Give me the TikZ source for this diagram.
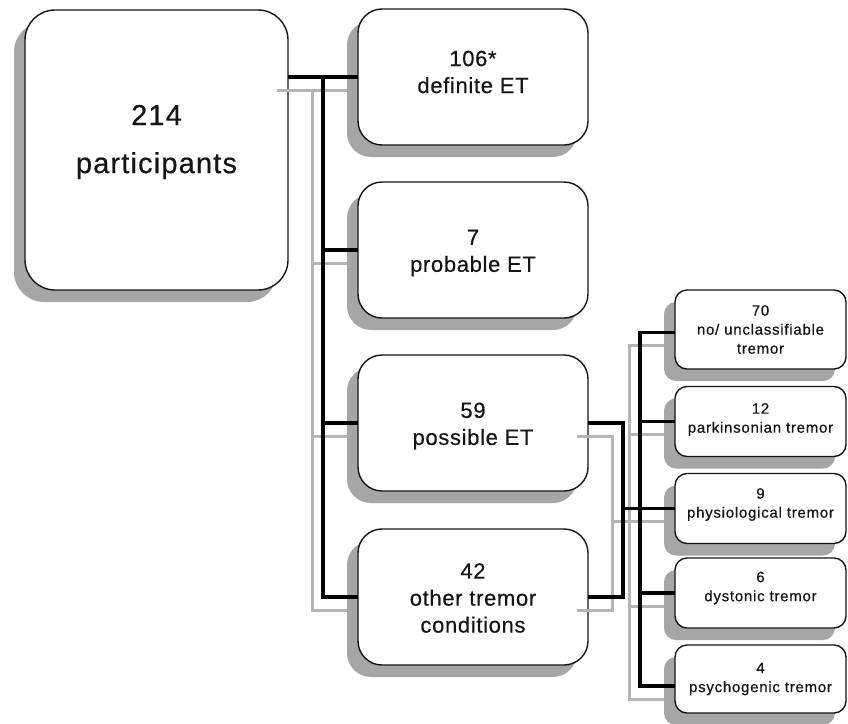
\documentclass[tikz,border=0pt]{standalone}
\usepackage{fontspec}
\setmainfont{Liberation Sans}
\newfontfamily\bigf[LetterSpace=4,FakeBold=0.4]{Liberation Sans}
\newfontfamily\midf[LetterSpace=3,FakeBold=0.4]{Liberation Sans}
\newfontfamily\smlf[LetterSpace=5,FakeBold=0.5]{Liberation Sans}
\usetikzlibrary{shadows}
\definecolor{boxshadow}{HTML}{A6A6A6}
\definecolor{connshadow}{HTML}{B5B5B5}
\definecolor{ink}{HTML}{151515}
\tikzset{
  box/.style={draw=ink, line width=1.4pt, fill=white, inner sep=0pt, outer sep=0pt, rectangle,
    drop shadow={shadow xshift=-11pt, shadow yshift=-12pt, fill=boxshadow, opacity=1}},
  bigbox/.style={box, rounded corners=30pt, minimum width=263pt, minimum height=280pt},
  midbox/.style={box, rounded corners=24pt, minimum width=230pt, minimum height=136pt},
  smlbox/.style={box, rounded corners=12pt, minimum width=171pt, minimum height=70pt},
  bigtxt/.style={font=\bigf\fontsize{29}{48}\selectfont, text=ink, align=center, inner sep=0pt},
  midtxt/.style={font=\midf\fontsize{22}{27}\selectfont, text=ink, align=center, inner sep=0pt},
  smltxt/.style={font=\smlf\fontsize{15}{19}\selectfont, text=ink, align=center, inner sep=0pt},
  conn/.style={line width=3.2pt, draw=black},
  connsh/.style={line width=3pt, draw=connshadow},
}
\begin{document}
\begin{tikzpicture}[x=1pt, y=-1pt]
\fill[white] (0,0) rectangle (848,723);
\useasboundingbox (0,0) rectangle (848,723);

% boxes
\node[bigbox] (big) at (156.5,150) {};
\node[midbox] (b1) at (473,77) {};
\node[midbox] (b2) at (473,250) {};
\node[midbox] (b3) at (473,423) {};
\node[midbox] (b4) at (473,597) {};
\node[smlbox, minimum height=79pt] (sA) at (760.5,329.5) {};
\node[smlbox] (sB) at (760.5,421.5) {};
\node[smlbox] (sC) at (760.5,508.5) {};
\node[smlbox] (sD) at (760.5,593) {};
\node[smlbox, minimum height=68pt] (sE) at (760.5,679) {};

% texts
\node[bigtxt] (tbig) at ([yshift=8pt]big.center) {214\\participants};
\node[midtxt] (t1) at ([yshift=5pt]b1.center) {106*\\definite ET};
\node[midtxt] (t2) at ([yshift=-3pt]b2.center) {7\\probable ET};
\node[midtxt] (t3) at ([yshift=-3pt]b3.center) {59\\possible ET};
\node[midtxt] (t4) at ([yshift=-1pt]b4.center) {42\\other tremor\\conditions};
\node[smltxt] (tA) at (sA.center) {70\\no/ unclassifiable\\tremor};
\node[smltxt] (tB) at ([yshift=2pt]sB.center) {12\\parkinsonian tremor};
\node[smltxt] (tC) at ([yshift=4pt]sC.center) {9\\physiological tremor};
\node[smltxt] (tD) at ([yshift=5pt]sD.center) {6\\dystonic tremor};
\node[smltxt] (tE) at (sE.center) {4\\psychogenic tremor};

% bus coordinates
\coordinate (busA) at (323,0);
\coordinate (busB) at (623,0);
\coordinate (busC) at (640,0);
\coordinate (eIn) at ([yshift=-7pt]sE.west);
\coordinate (aIn) at ([yshift=-3pt]sA.west);
\coordinate (p0) at (big.east |- b1.west);
\coordinate (a1) at (busA |- b1.west);
\coordinate (a2) at (busA |- b2.west);
\coordinate (a3) at (busA |- b3.west);
\coordinate (a4) at (busA |- b4.west);
\coordinate (q3) at (busB |- b3.east);
\coordinate (q4) at (busB |- b4.east);
\coordinate (qc) at (busB |- sC.west);
\coordinate (c1) at (busC |- aIn);
\coordinate (c2) at (busC |- sB.west);
\coordinate (c4) at (busC |- sD.west);
\coordinate (c5) at (busC |- eIn);

\newcommand\drawconnectors[3]{%
  \draw[#3] ([shift={(#1,#2)}]p0) -- ([shift={(#1,#2)}]b1.west);
  \draw[#3] ([shift={(#1,#2)}]a1) -- ([shift={(#1,#2)}]a4) -- ([shift={(#1,#2)}]b4.west);
  \draw[#3] ([shift={(#1,#2)}]a2) -- ([shift={(#1,#2)}]b2.west);
  \draw[#3] ([shift={(#1,#2)}]a3) -- ([shift={(#1,#2)}]b3.west);
  \draw[#3] ([shift={(#1,#2)}]b3.east) -- ([shift={(#1,#2)}]q3) -- ([shift={(#1,#2)}]q4) -- ([shift={(#1,#2)}]b4.east);
  \draw[#3] ([shift={(#1,#2)}]qc) -- ([shift={(#1,#2)}]sC.west);
  \draw[#3] ([shift={(#1,#2)}]aIn) -- ([shift={(#1,#2)}]c1) -- ([shift={(#1,#2)}]c5) -- ([shift={(#1,#2)}]eIn);
  \draw[#3] ([shift={(#1,#2)}]c2) -- ([shift={(#1,#2)}]sB.west);
  \draw[#3] ([shift={(#1,#2)}]c4) -- ([shift={(#1,#2)}]sD.west);
}
\drawconnectors{-11}{13}{connsh}
\drawconnectors{0}{0}{conn}
\end{tikzpicture}
\end{document}
